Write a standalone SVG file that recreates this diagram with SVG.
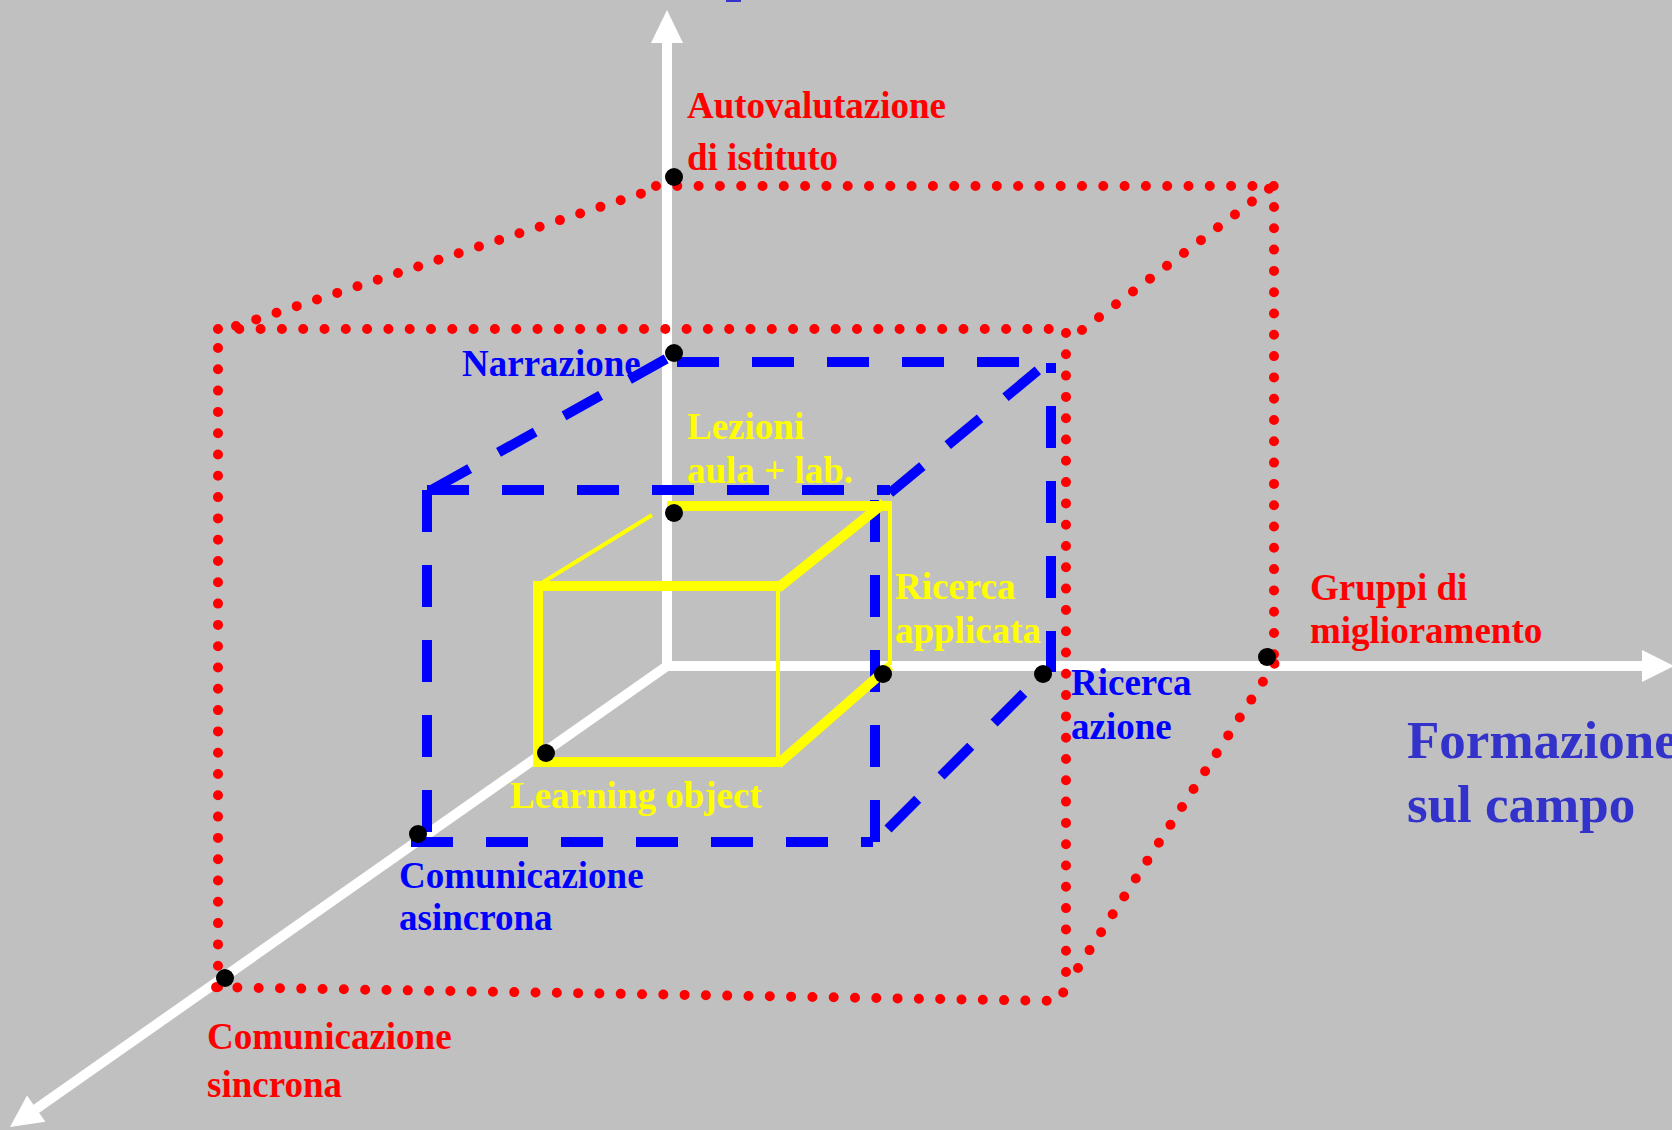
<svg xmlns="http://www.w3.org/2000/svg" width="1672" height="1130" viewBox="0 0 1672 1130">
<defs>
<style>
.red{fill:none;stroke:#FF0000;stroke-width:10;stroke-linecap:round;stroke-dasharray:0 21.3}
.blue{fill:none;stroke:#0000FF;stroke-width:10;stroke-dasharray:42 33}
.yt{fill:none;stroke:#FFFF00;stroke-width:10}
.yn{fill:none;stroke:#FFFF00;stroke-width:4}
.ax{fill:none;stroke:#FFFFFF;stroke-width:10}
.dot{fill:#000000}
text{font-family:"Liberation Serif","Times New Roman",serif;font-weight:bold;font-size:37px}
.tr{fill:#FF0000}
.tb{fill:#0000FF}
.ty{fill:#FFFF00}
.big{fill:#3333CC;font-size:53px}
</style>
</defs>
<rect x="0" y="0" width="1672" height="1130" fill="#C0C0C0"/>
<rect x="726" y="0" width="15" height="2" fill="#3333CC"/>
<g id="connectors">
<g id="axes">
<path class="ax" d="M667,42 V666 H1645"/>
<path class="ax" d="M667,666 L36,1109"/>
<polygon points="667,10 683,43 651,43" fill="#FFFFFF"/>
<polygon points="1674,666 1642,650 1642,682" fill="#FFFFFF"/>
<polygon points="10,1127 45.4,1121.8 27,1095.6" fill="#FFFFFF"/>
</g>
<g id="red-box">
<path class="red" d="M218,329 H1066 V988 L1058,1001 L202,987"/>
<path class="red" d="M218,987 V329"/>
<path class="red" d="M236,326 L652,190"/>
<path class="red" d="M656,186 H1274 V665"/>
<path class="red" d="M1082,330 L1270,188"/>
<path class="red" d="M1078,968 L1275,663"/>
</g>
<g id="blue-box">
<path class="blue" d="M427,490 H890"/>
<path class="blue" d="M427,490 V842"/>
<path class="blue" d="M411,842 H873"/>
<path class="blue" d="M875,500 V842"/>
<path class="blue" d="M677,362 H1051"/>
<path class="blue" d="M1051,363 V672" style="stroke-dashoffset:32"/>
<path class="blue" d="M433,489 L675,354"/>
<path class="blue" d="M890,493 L1048,362"/>
<path class="blue" d="M888,829 L1045,672"/>
</g>
<g id="yellow-cube">
<path class="yt" d="M538,581 V767"/>
<path class="yt" d="M533,586 H780"/>
<path class="yt" d="M533,762 H780"/>
<path class="yn" d="M778,586 V762"/>
<path class="yt" d="M667,506 H892"/>
<path class="yt" d="M778,588 L884,503"/>
<path class="yn" d="M540,584 L652,515"/>
<path class="yn" d="M890,506 V665"/>
<path class="yt" d="M778,764 L890,666"/>
</g>
</g>
<g id="autovalutazione">
<circle class="dot" cx="674" cy="177" r="9"/>
<text class="tr" x="687" y="118">Autovalutazione</text>
<text class="tr" x="687" y="170">di istituto</text>
</g>
<g id="narrazione">
<circle class="dot" cx="674" cy="353" r="9"/>
<text class="tb" x="462" y="376">Narrazione</text>
</g>
<g id="lezioni">
<circle class="dot" cx="674" cy="513" r="9"/>
<text class="ty" x="687" y="439">Lezioni</text>
<text class="ty" x="687" y="483">aula + lab.</text>
</g>
<g id="ricerca-applicata">
<circle class="dot" cx="883" cy="674" r="9"/>
<text class="ty" x="895" y="599">Ricerca</text>
<text class="ty" x="895" y="643">applicata</text>
</g>
<g id="ricerca-azione">
<circle class="dot" cx="1043" cy="674" r="9"/>
<text class="tb" x="1071" y="695">Ricerca</text>
<text class="tb" x="1071" y="739">azione</text>
</g>
<g id="gruppi">
<circle class="dot" cx="1267" cy="657" r="9"/>
<text class="tr" x="1310" y="600">Gruppi di</text>
<text class="tr" x="1310" y="643">miglioramento</text>
</g>
<g id="formazione">
<text class="big" x="1407" y="758">Formazione</text>
<text class="big" x="1407" y="822">sul campo</text>
</g>
<g id="learning-object">
<circle class="dot" cx="546" cy="753" r="9"/>
<text class="ty" x="510" y="808">Learning object</text>
</g>
<g id="com-asincrona">
<circle class="dot" cx="418" cy="834" r="9"/>
<text class="tb" x="399" y="888">Comunicazione</text>
<text class="tb" x="399" y="930">asincrona</text>
</g>
<g id="com-sincrona">
<circle class="dot" cx="225" cy="978" r="9"/>
<text class="tr" x="207" y="1049">Comunicazione</text>
<text class="tr" x="207" y="1097">sincrona</text>
</g>
</svg>
